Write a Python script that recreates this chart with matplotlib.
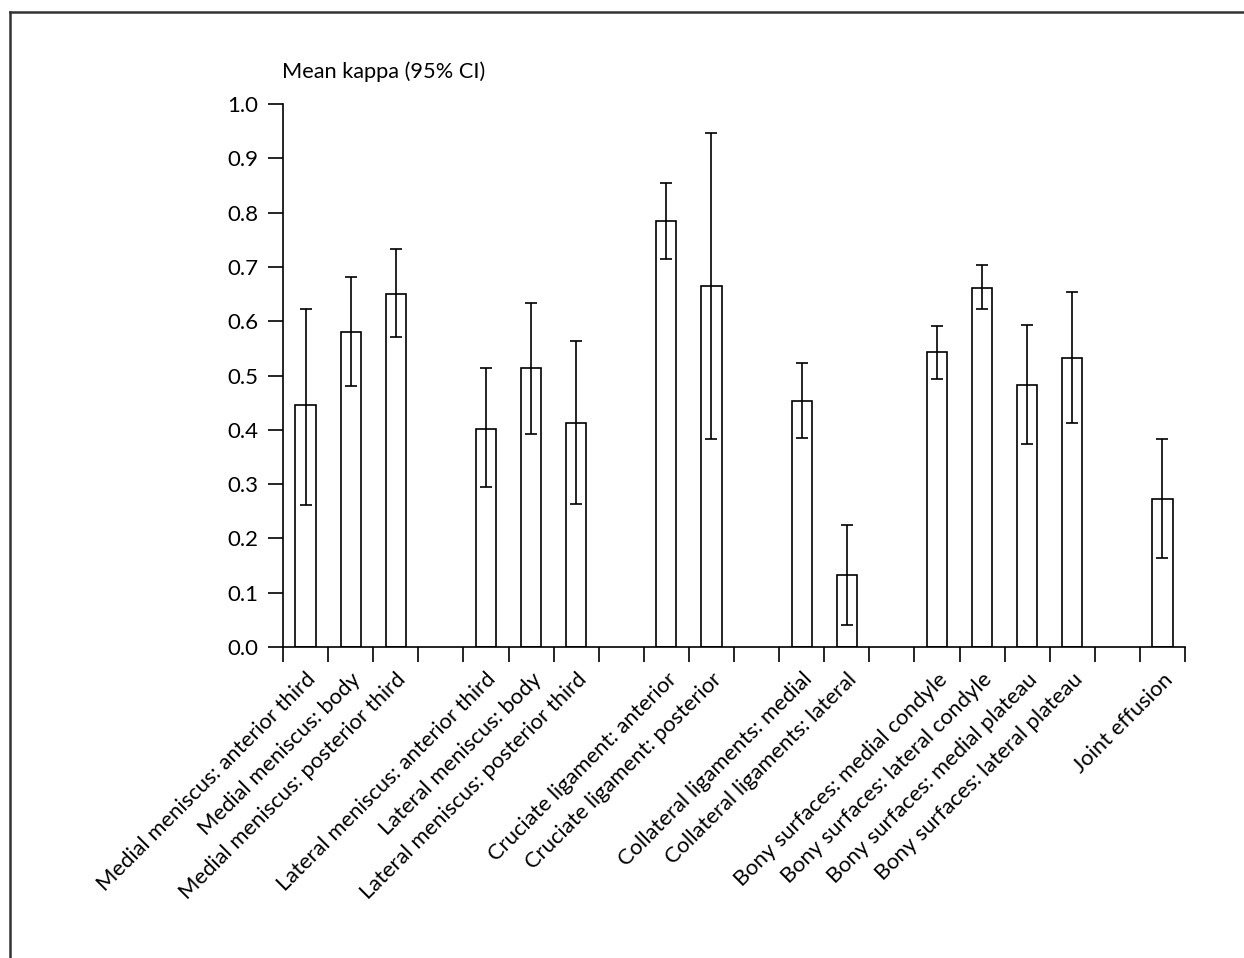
import matplotlib
matplotlib.use("Agg")
import matplotlib.pyplot as plt
from matplotlib.lines import Line2D
import numpy as np

plt.rcParams['font.family'] = ['Lato', 'DejaVu Sans']

categories = [
    "Medial meniscus: anterior third",
    "Medial meniscus: body",
    "Medial meniscus: posterior third",
    "Lateral meniscus: anterior third",
    "Lateral meniscus: body",
    "Lateral meniscus: posterior third",
    "Cruciate ligament: anterior",
    "Cruciate ligament: posterior",
    "Collateral ligaments: medial",
    "Collateral ligaments: lateral",
    "Bony surfaces: medial condyle",
    "Bony surfaces: lateral condyle",
    "Bony surfaces: medial plateau",
    "Bony surfaces: lateral plateau",
    "Joint effusion",
]
slots = [0, 1, 2, 4, 5, 6, 8, 9, 11, 12, 14, 15, 16, 17, 19]
mean_kappa = [0.445, 0.580, 0.651, 0.401, 0.513, 0.413, 0.785, 0.665,
              0.453, 0.133, 0.543, 0.662, 0.483, 0.533, 0.273]
ci_low = [0.262, 0.480, 0.570, 0.294, 0.393, 0.264, 0.715, 0.383,
          0.385, 0.040, 0.493, 0.623, 0.373, 0.413, 0.163]
ci_high = [0.622, 0.681, 0.733, 0.513, 0.634, 0.563, 0.854, 0.947,
           0.523, 0.225, 0.592, 0.704, 0.593, 0.654, 0.383]
yticks = [0.0, 0.1, 0.2, 0.3, 0.4, 0.5, 0.6, 0.7, 0.8, 0.9, 1.0]
ytick_labels = ["0.0", "0.1", "0.2", "0.3", "0.4", "0.5", "0.6", "0.7", "0.8", "0.9", "1.0"]

W, H = 1244, 958
fig = plt.figure(figsize=(W / 100, H / 100), dpi=100)
fig.patch.set_facecolor('white')

# frame lines (left and top only visible)
fig.add_artist(Line2D([10 / W, 10 / W], [0, 1 - 12 / H], transform=fig.transFigure,
                      color='#333333', lw=1.8))
fig.add_artist(Line2D([10 / W, 1], [1 - 12 / H, 1 - 12 / H], transform=fig.transFigure,
                      color='#333333', lw=1.8))

left, right = 283 / W, 1185 / W
bottom, top = 1 - 647 / H, 1 - 104 / H
ax = fig.add_axes([left, bottom, right - left, top - bottom])

m = np.array(mean_kappa)
lo = np.array(ci_low)
hi = np.array(ci_high)
yerr = np.vstack([m - lo, hi - m])

ax.bar(slots, m, width=0.45, color='white', edgecolor='black', linewidth=1.2, zorder=2)
ax.errorbar(slots, m, yerr=yerr, fmt='none', ecolor='black', elinewidth=1.2,
            capsize=4, capthick=1.2, zorder=3)

ax.set_xlim(-0.5, 19.5)
ax.set_ylim(0, 1.0)
for s in ['top', 'right']:
    ax.spines[s].set_visible(False)
for s in ['left', 'bottom']:
    ax.spines[s].set_linewidth(1.2)

ax.set_yticks(yticks)
ax.set_yticklabels(ytick_labels, fontsize=16)
ax.tick_params(axis='y', direction='out', length=11, width=1.2, pad=7)

ax.set_xticks(slots)
ax.set_xticklabels(categories, rotation=45, ha='right', va='top',
                   rotation_mode='anchor', fontsize=15.8)
ax.tick_params(axis='x', which='major', length=0, pad=16)
ax.set_xticks(np.arange(-0.5, 20, 1.0), minor=True)
ax.tick_params(axis='x', which='minor', direction='out', length=11, width=1.2)

fig.text(282 / W, 1 - 72 / H, "Mean kappa (95% CI)", ha='left', va='center', fontsize=15.7)

fig.savefig("out.png", dpi=100, facecolor='white')
